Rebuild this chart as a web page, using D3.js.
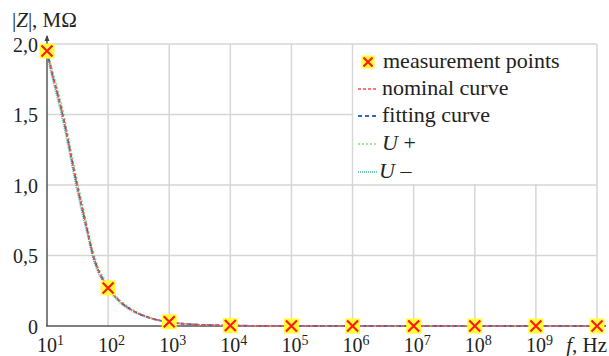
<!DOCTYPE html>
<html>
<head>
<meta charset="utf-8">
<script src="https://cdn.jsdelivr.net/npm/d3@7"></script>
<style>
  body { margin: 0; background: #fff; }
  svg text { fill: #222; }
</style>
</head>
<body>
<div id="chart"></div>
<script>
// Measured points
const measFreq = [1e1, 1e2, 1e3, 1e4, 1e5, 1e6, 1e7, 1e8, 1e9, 1e10];
const measZ = [1.95, 0.27, 0.03, 0.003, 0.0005, 0, 0, 0, 0, 0];

// Curves
const curveFreq = [10, 12, 15, 18, 22, 26, 31, 37, 45, 57, 70, 85, 100, 130, 170, 230, 300, 400, 550, 750, 1000, 1500, 2500, 5000, 1e4, 1e5, 1e6, 1e10];
const nominalZ = [1.95, 1.8, 1.64, 1.5, 1.32, 1.16, 1.0, 0.85, 0.69, 0.5, 0.39, 0.32, 0.27, 0.21, 0.16, 0.12, 0.092, 0.07, 0.05, 0.037, 0.027, 0.018, 0.011, 0.006, 0.003, 0.0003, 0, 0];
const fittingZ = [1.95, 1.8, 1.64, 1.5, 1.32, 1.16, 1.0, 0.85, 0.69, 0.5, 0.39, 0.32, 0.27, 0.21, 0.16, 0.12, 0.092, 0.07, 0.05, 0.037, 0.027, 0.018, 0.011, 0.006, 0.003, 0.0003, 0, 0];
const upperZ = [1.97, 1.83, 1.68, 1.54, 1.36, 1.2, 1.04, 0.89, 0.72, 0.53, 0.41, 0.34, 0.285, 0.22, 0.17, 0.127, 0.097, 0.074, 0.053, 0.039, 0.029, 0.019, 0.012, 0.0065, 0.0033, 0.0003, 0, 0];
const lowerZ = [1.93, 1.77, 1.6, 1.46, 1.28, 1.12, 0.96, 0.81, 0.66, 0.47, 0.37, 0.3, 0.255, 0.2, 0.15, 0.113, 0.087, 0.066, 0.047, 0.035, 0.025, 0.017, 0.010, 0.0055, 0.0027, 0.0003, 0, 0];

const yTicks = [0, 0.5, 1.0, 1.5, 2.0];
const yTickLabels = ["0", "0,5", "1,0", "1,5", "2,0"];
const xTicks = [1e1, 1e2, 1e3, 1e4, 1e5, 1e6, 1e7, 1e8, 1e9, 1e10];

const series = [
  { label: "nominal curve", values: nominalZ, color: "#ff4848", dash: "3,2", width: 1.7 },
  { label: "fitting curve", values: fittingZ, color: "#3568b0", dash: "4,3", width: 1.8 },
  { label: "U +", values: upperZ, color: "#80e680", dash: "2,2", width: 1.5 },
  { label: "U \u2013", values: lowerZ, color: "#3fc096", dash: "1,1", width: 1.5 }
];

const width = 609, height = 356;
const serif = "'Liberation Serif', 'Times New Roman', Tinos, 'DejaVu Serif', serif";

const xScale = d3.scaleLog().domain([1e1, 1e10]).range([47, 597]);
const yScale = d3.scaleLinear().domain([0, 2]).range([326, 44]);

const svg = d3.select("#chart").append("svg")
  .attr("width", width).attr("height", height)
  .attr("font-family", serif)
  .style("font-family", serif);

// grid
svg.append("g").selectAll("line")
  .data(xTicks.slice(1))
  .join("line")
    .attr("x1", d => xScale(d)).attr("x2", d => xScale(d))
    .attr("y1", yScale(2)).attr("y2", yScale(0))
    .attr("stroke", "#d6d6d6").attr("stroke-width", 1.5);
svg.append("g").selectAll("line")
  .data(yTicks.slice(1))
  .join("line")
    .attr("x1", xScale(1e1)).attr("x2", xScale(1e10))
    .attr("y1", d => yScale(d)).attr("y2", d => yScale(d))
    .attr("stroke", "#d6d6d6").attr("stroke-width", 1.5);

// legend box (white, bounded by the grid)
svg.append("rect")
  .attr("x", xScale(1e6) + 1).attr("y", yScale(2) + 1)
  .attr("width", xScale(1e10) - xScale(1e6) - 2)
  .attr("height", yScale(1) - yScale(2) - 2)
  .attr("fill", "#fff");

// axes
svg.append("line")
  .attr("x1", xScale(1e1) - 1).attr("x2", 606)
  .attr("y1", yScale(0)).attr("y2", yScale(0))
  .attr("stroke", "#555").attr("stroke-width", 1.5);
svg.append("path")
  .attr("d", `M606,${yScale(0)} l-6,-2.5 l0,5 Z`).attr("fill", "#444");
svg.append("line")
  .attr("x1", xScale(1e1)).attr("x2", xScale(1e1))
  .attr("y1", yScale(0)).attr("y2", 36)
  .attr("stroke", "#555").attr("stroke-width", 1.5);
svg.append("path")
  .attr("d", `M${xScale(1e1)},35 l-2.5,6 l5,0 Z`).attr("fill", "#444");

// y tick labels
svg.append("g").selectAll("text")
  .data(yTicks)
  .join("text")
    .attr("x", 38)
    .attr("y", d => yScale(d) + 7.5)
    .attr("text-anchor", "end")
    .style("font-size", "20px")
    .text((d, i) => yTickLabels[i]);

// x tick labels 10^n
const xLabels = svg.append("g").selectAll("text")
  .data(xTicks.slice(0, 9))
  .join("text")
    .attr("x", d => xScale(d) - 10)
    .attr("y", 352)
    .style("font-size", "20px");
xLabels.append("tspan").text("10");
xLabels.append("tspan")
  .attr("dy", -7).style("font-size", "14px")
  .text(d => Math.round(Math.log10(d)));

// x axis title
const xt = svg.append("text").attr("x", 607).attr("y", 352).attr("text-anchor", "end").style("font-size", "21px");
xt.append("tspan").style("font-style", "italic").text("f");
xt.append("tspan").text(", Hz");

// y axis title
const yt = svg.append("text").attr("x", 12).attr("y", 27).style("font-size", "21px");
yt.append("tspan").text("|");
yt.append("tspan").style("font-style", "italic").text("Z");
yt.append("tspan").text("|, M\u03A9");

// curves
const line = d3.line()
  .x((d, i) => xScale(curveFreq[i]))
  .y(d => yScale(d))
  .curve(d3.curveMonotoneX);

series.slice().reverse().forEach(s => {
  svg.append("path")
    .attr("d", line(s.values))
    .attr("fill", "none")
    .attr("stroke", s.color)
    .attr("stroke-width", s.width)
    .attr("stroke-dasharray", s.dash);
});

// markers
const drawMarker = (g, cx, cy, size) => {
  g.append("rect")
    .attr("x", cx - size / 2).attr("y", cy - size / 2)
    .attr("width", size).attr("height", size)
    .attr("fill", "#ffff33");
  const a = size / 2 - 2;
  g.append("path")
    .attr("d", `M${cx - a},${cy - a}L${cx + a},${cy + a}M${cx - a},${cy + a}L${cx + a},${cy - a}`)
    .attr("stroke", "#ff1a1a").attr("stroke-width", 2.2);
};
const markers = svg.append("g");
measFreq.forEach((f, i) => drawMarker(markers, xScale(f), yScale(measZ[i]), 15));

// legend
const legend = svg.append("g");
const legendRows = [62, 89, 116, 144, 172];
drawMarker(legend, 368, legendRows[0], 13);
legend.append("text").attr("x", 383).attr("y", legendRows[0] + 6).style("font-size", "22px").text("measurement points");
series.forEach((s, i) => {
  const y = legendRows[i + 1];
  legend.append("line")
    .attr("x1", 358).attr("x2", 378)
    .attr("y1", y).attr("y2", y)
    .attr("stroke", s.color).attr("stroke-width", s.width)
    .attr("stroke-dasharray", s.dash);
  const t = legend.append("text").attr("x", i === 3 ? 379 : 382).attr("y", y + 6).style("font-size", "22px");
  if (s.label.startsWith("U")) {
    t.append("tspan").style("font-style", "italic").text("U");
    t.append("tspan").text(s.label.slice(1));
  } else {
    t.text(s.label);
  }
});
</script>
</body>
</html>
